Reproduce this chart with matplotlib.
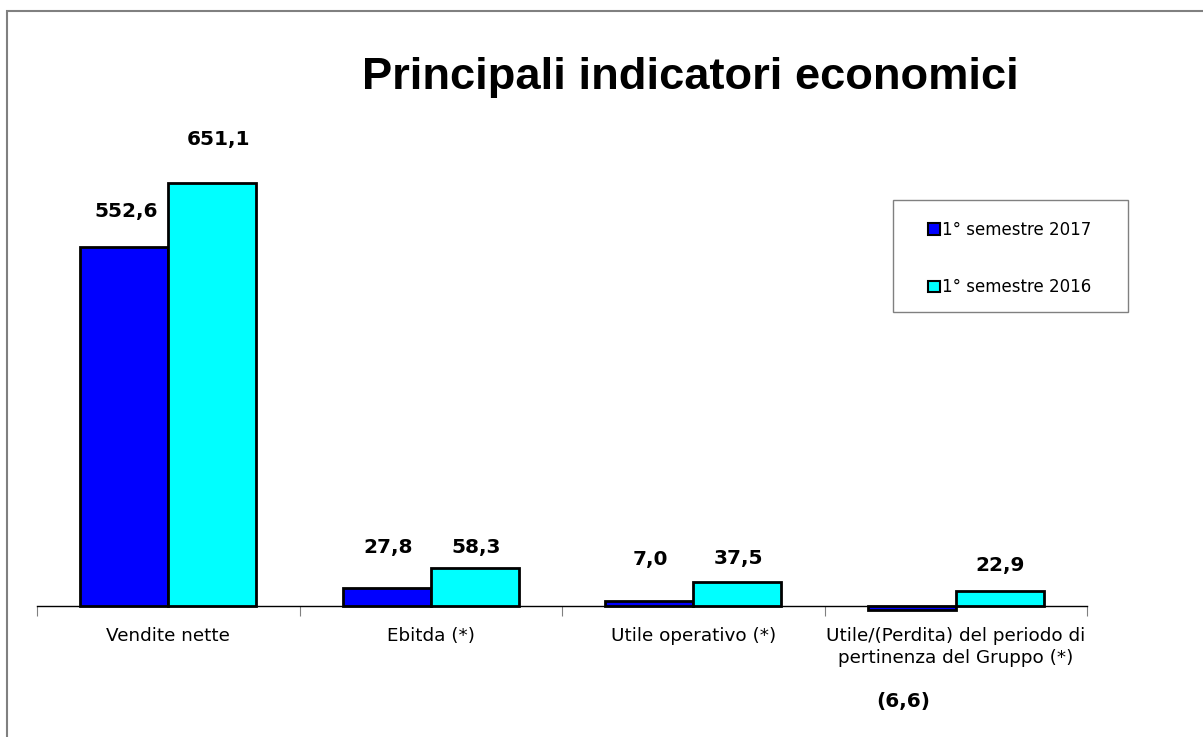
import matplotlib
matplotlib.use("Agg")
import matplotlib.pyplot as plt
from matplotlib.patches import Rectangle
import numpy as np

categories = ["Vendite nette", "Ebitda (*)", "Utile operativo (*)",
              "Utile/(Perdita) del periodo di\npertinenza del Gruppo (*)"]
series_names = ["1° semestre 2017", "1° semestre 2016"]
values_2017 = [552.6, 27.8, 7.0, -6.6]
values_2016 = [651.1, 58.3, 37.5, 22.9]
labels_2017 = ["552,6", "27,8", "7,0", "(6,6)"]
labels_2016 = ["651,1", "58,3", "37,5", "22,9"]
title = "Principali indicatori economici"

colors = ["#0000FF", "#00FFFF"]
# label offsets in pixels (x, y) relative to bar end
off_2017 = [(2, 35), (1, 40), (1, 42), (-9, -96)]
off_2016 = [(6, 43), (1, 21), (1, 23), (0, 26)]

W, H = 1203, 737
fig = plt.figure(figsize=(W / 100, H / 100), dpi=100)

# figure border (left & top visible)
fig.add_artist(Rectangle((7 / W, -0.1), 1.2, (H - 11) / H + 0.1, transform=fig.transFigure,
                         fill=False, edgecolor="#808080", linewidth=1.5))

ax = fig.add_axes([37 / W, (H - 638.5) / H, 1050 / W, (638.5 - 151) / H])
ax.set_xlim(0, 4)
ax.set_ylim(-50, 700)

x = np.arange(len(categories)) + 0.5
bw = 88 / 262.5
b1 = ax.bar(x - bw / 2, values_2017, bw, color=colors[0], edgecolor="black", linewidth=2,
            label=series_names[0], zorder=3)
b2 = ax.bar(x + bw / 2, values_2016, bw, color=colors[1], edgecolor="black", linewidth=2,
            label=series_names[1], zorder=3)

for bars, labs, offs in [(b1, labels_2017, off_2017), (b2, labels_2016, off_2016)]:
    for rect, lab, (dx, dy) in zip(bars, labs, offs):
        v = rect.get_y() + rect.get_height() if rect.get_height() >= 0 else rect.get_y()
        ax.annotate(lab, (rect.get_x() + rect.get_width() / 2, v),
                    xytext=(dx, dy), textcoords="offset pixels",
                    ha="center", va="center", fontsize=14.5, fontweight="bold",
                    family="DejaVu Sans", color="black")

for s in ["top", "right", "left"]:
    ax.spines[s].set_visible(False)
ax.spines["bottom"].set_position(("data", 0))
ax.spines["bottom"].set_linewidth(1.0)
ax.set_yticks([])
ax.set_xticks([0, 1, 2, 3, 4])
ax.set_xticklabels([])
ax.tick_params(axis="x", direction="out", length=7, width=0.8, color="#808080")

for xi, cat in zip(x, categories):
    ax.annotate(cat, (xi, 0), xytext=(0, -21), textcoords="offset pixels",
                ha="center", va="top", fontsize=13.2, linespacing=1.3,
                family="DejaVu Sans")

fig.text(690 / W, 1 - 77 / H, title, ha="center", va="center", fontsize=32.6,
         fontweight="bold", family=["Liberation Sans Narrow", "Liberation Sans"])

# legend frame drawn separately
fig.add_artist(Rectangle((893 / W, 1 - 312 / H), 235 / W, 112 / H, transform=fig.transFigure,
                         fill=False, edgecolor="#808080", linewidth=1.0))
handles = [Rectangle((0, 0), 1, 1, facecolor=c, edgecolor="black", linewidth=1.5) for c in colors]
leg = fig.legend(handles, series_names, loc="upper left",
                 bbox_to_anchor=(928 / W, 1 - 221 / H), borderaxespad=0, borderpad=0,
                 frameon=False,
                 prop={"family": "DejaVu Sans", "size": 12},
                 handlelength=0.7, handleheight=0.7, handletextpad=0.15,
                 labelspacing=2.35)

fig.savefig("out.png", dpi=100)
